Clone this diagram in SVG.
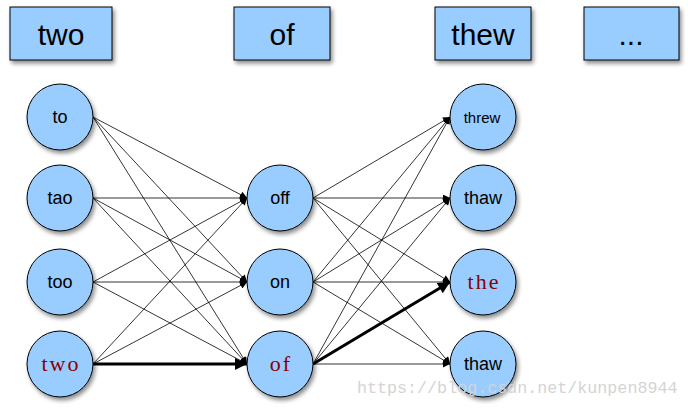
<svg xmlns="http://www.w3.org/2000/svg" width="688" height="411" viewBox="0 0 688 411">
<defs>
<filter id="sh" x="-20%" y="-20%" width="150%" height="150%">
<feDropShadow dx="2" dy="3" stdDeviation="2" flood-color="#000" flood-opacity="0.45"/>
</filter>
<marker id="ah" viewBox="0 0 10 10" refX="10" refY="5" markerWidth="10" markerHeight="7" markerUnits="userSpaceOnUse" orient="auto">
<path d="M0,0 L10,5 L0,10 z" fill="#000"/>
</marker>
<marker id="ahb" viewBox="0 0 10 10" refX="10" refY="5" markerWidth="16" markerHeight="12" markerUnits="userSpaceOnUse" orient="auto">
<path d="M0,0 L10,5 L0,10 z" fill="#000"/>
</marker>
</defs>
<style>
.box{fill:#99ccff;stroke:#000;stroke-width:1;filter:url(#sh)}
.nd{fill:#99ccff;stroke:#000;stroke-width:1;filter:url(#sh)}
.bt{font-family:"Liberation Sans",Arial,sans-serif;font-size:30px;fill:#000;text-anchor:middle}
.lb{font-family:"Liberation Sans",Arial,sans-serif;font-size:18px;fill:#000;text-anchor:middle}
.rd{font-family:"Liberation Serif","Times New Roman",serif;font-size:22px;fill:#8b0000;text-anchor:middle;letter-spacing:2px}
.e{stroke:#000;stroke-width:0.8;fill:none;marker-end:url(#ah)}
.eb{stroke:#000;stroke-width:3;fill:none;marker-end:url(#ahb)}
.wm{font-family:"Liberation Mono","Courier New",monospace;font-size:16.7px;fill:#d4d4d4}
</style>
<g id="box-two"><rect class="box" x="10" y="7" width="102" height="53"/><text class="bt" x="61" y="45">two</text></g>
<g id="box-of"><rect class="box" x="234" y="7" width="96" height="53"/><text class="bt" x="282" y="45">of</text></g>
<g id="box-thew"><rect class="box" x="435" y="7" width="96" height="53"/><text class="bt" x="483" y="45">thew</text></g>
<g id="box-dots"><rect class="box" x="584" y="7" width="95" height="53"/><text class="bt" x="631" y="45">...</text></g>
<g id="connectors">
<line class="e" x1="93" y1="117" x2="247" y2="198"/>
<line class="e" x1="93" y1="117" x2="247" y2="282"/>
<line class="e" x1="93" y1="117" x2="247" y2="364"/>
<line class="e" x1="93" y1="198" x2="247" y2="198"/>
<line class="e" x1="93" y1="198" x2="247" y2="282"/>
<line class="e" x1="93" y1="198" x2="247" y2="364"/>
<line class="e" x1="93" y1="282" x2="247" y2="198"/>
<line class="e" x1="93" y1="282" x2="247" y2="282"/>
<line class="e" x1="93" y1="282" x2="247" y2="364"/>
<line class="e" x1="93" y1="364" x2="247" y2="198"/>
<line class="e" x1="93" y1="364" x2="247" y2="282"/>
<line class="eb" x1="93" y1="364" x2="247" y2="364"/>
<line class="e" x1="313" y1="198" x2="450" y2="117"/>
<line class="e" x1="313" y1="198" x2="450" y2="198"/>
<line class="e" x1="313" y1="198" x2="450" y2="282"/>
<line class="e" x1="313" y1="198" x2="450" y2="364"/>
<line class="e" x1="313" y1="282" x2="450" y2="117"/>
<line class="e" x1="313" y1="282" x2="450" y2="198"/>
<line class="e" x1="313" y1="282" x2="450" y2="282"/>
<line class="e" x1="313" y1="282" x2="450" y2="364"/>
<line class="e" x1="313" y1="364" x2="450" y2="117"/>
<line class="e" x1="313" y1="364" x2="450" y2="198"/>
<line class="eb" x1="313" y1="364" x2="450" y2="282"/>
<line class="e" x1="313" y1="364" x2="450" y2="364"/>
</g>
<g id="n-to"><circle class="nd" cx="60" cy="117" r="33"/><text class="lb" x="60" y="123">to</text></g>
<g id="n-tao"><circle class="nd" cx="60" cy="198" r="33"/><text class="lb" x="60" y="204">tao</text></g>
<g id="n-too"><circle class="nd" cx="60" cy="282" r="33"/><text class="lb" x="60" y="288">too</text></g>
<g id="n-two"><circle class="nd" cx="60" cy="364" r="33"/><text class="rd" x="61" y="371">two</text></g>
<g id="n-off"><circle class="nd" cx="280" cy="198" r="33"/><text class="lb" x="280" y="204">off</text></g>
<g id="n-on"><circle class="nd" cx="280" cy="282" r="33"/><text class="lb" x="280" y="288">on</text></g>
<g id="n-of"><circle class="nd" cx="280" cy="364" r="33"/><text class="rd" x="281" y="371">of</text></g>
<g id="n-threw"><circle class="nd" cx="483" cy="117" r="33"/><text class="lb" x="482" y="123" style="font-size:15px">threw</text></g>
<g id="n-thaw1"><circle class="nd" cx="483" cy="198" r="33"/><text class="lb" x="483" y="204">thaw</text></g>
<g id="n-the"><circle class="nd" cx="483" cy="282" r="33"/><text class="rd" x="484" y="289">the</text></g>
<g id="n-thaw2"><circle class="nd" cx="483" cy="364" r="33"/><text class="lb" x="483" y="370">thaw</text></g>
<text class="wm" x="357" y="393">https://blog.csdn.net/kunpen8944</text>
</svg>
